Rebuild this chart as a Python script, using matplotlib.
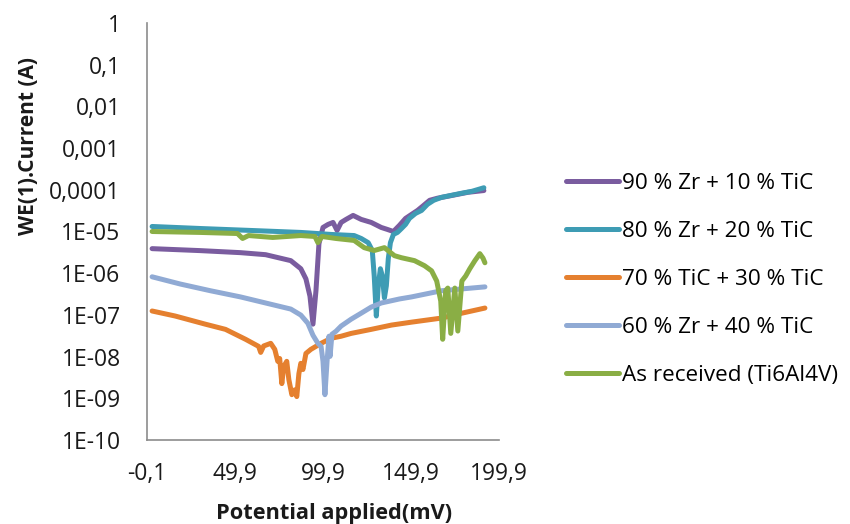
import matplotlib
matplotlib.use("Agg")
import matplotlib.pyplot as plt
from matplotlib.ticker import FixedLocator, FixedFormatter

plt.rcParams['font.family'] = ['Open Sans', 'DejaVu Sans']

# Polarisation curves: potential (mV) vs current (A)
zr90_x = [2.8, 30.2, 53.0, 67.3, 81.6, 87.3, 90.2, 92.5, 94.2, 95.9, 97.6, 99.9,
          102.8, 105.6, 107.9, 110.2, 113.0, 117.0, 121.6, 127.3, 133.0, 136.5,
          139.9, 143.3, 146.8, 150.2, 153.6, 157.0, 160.5, 165.0, 170.8, 176.5,
          182.2, 191.3]
zr90_y = [3.88e-6, 3.48e-6, 3.11e-6, 2.78e-6, 2.0e-6, 1.28e-6, 7.3e-7, 2.8e-7,
          6.0e-8, 3.8e-7, 5.1e-6, 1.25e-5, 1.48e-5, 1.65e-5, 1.06e-5, 1.65e-5,
          1.95e-5, 2.43e-5, 1.95e-5, 1.65e-5, 1.25e-5, 1.12e-5, 1.0e-5, 1.40e-5,
          2.06e-5, 2.57e-5, 3.2e-5, 4.2e-5, 5.6e-5, 6.3e-5, 7.0e-5, 7.8e-5,
          8.7e-5, 9.6e-5]

zr80_x = [2.8, 30.2, 58.8, 87.3, 104.5, 117.6, 121.6, 125.6, 127.9, 129.0, 130.2,
          131.3, 132.5, 133.6, 134.8, 135.9, 137.0, 138.2, 139.9, 142.2, 144.5,
          146.8, 149.0, 152.5, 155.9, 159.3, 162.8, 167.3, 173.0, 178.8, 184.5,
          191.3]
zr80_y = [1.32e-5, 1.18e-5, 1.06e-5, 9.5e-6, 8.5e-6, 8.0e-6, 6.8e-6, 5.4e-6,
          3.5e-6, 8.6e-7, 9.4e-8, 5.0e-7, 1.28e-6, 8.6e-7, 2.55e-7, 5.0e-7,
          2.23e-6, 5.4e-6, 8.5e-6, 9.5e-6, 1.18e-5, 1.48e-5, 2.06e-5, 2.72e-5,
          3.2e-5, 4.5e-5, 5.6e-5, 6.6e-5, 7.4e-5, 8.3e-5, 9.2e-5, 1.12e-4]

tic70_x = [2.8, 15.9, 33.0, 44.5, 55.9, 63.3, 64.5, 66.2, 70.2, 72.5, 74.2, 75.3,
           76.5, 77.6, 79.3, 80.5, 82.2, 83.9, 85.0, 86.2, 87.3, 88.5, 90.2, 93.0,
           98.8, 104.5, 110.2, 115.9, 127.3, 138.8, 150.2, 167.3, 178.8, 191.9]
tic70_y = [1.24e-7, 9.4e-8, 6.0e-8, 4.5e-8, 2.6e-8, 1.76e-8, 1.26e-8, 1.8e-8,
           2.08e-8, 1.49e-8, 7.7e-9, 9.0e-9, 2.25e-9, 5.8e-9, 7.7e-9, 2.8e-9,
           1.22e-9, 1.6e-9, 1.1e-9, 3.9e-9, 6.9e-9, 4.9e-9, 1.19e-8, 1.49e-8,
           2.08e-8, 2.75e-8, 3.08e-8, 3.6e-8, 4.5e-8, 5.7e-8, 6.7e-8, 8.4e-8,
           1.1e-7, 1.46e-7]

zr60_x = [2.8, 18.8, 35.9, 53.0, 67.3, 81.6, 87.3, 91.3, 94.2, 97.0, 98.8, 99.9,
          101.0, 102.2, 103.3, 103.9, 105.0, 107.3, 110.2, 115.9, 121.6, 127.3,
          133.0, 143.3, 150.2, 158.7, 167.3, 178.8, 191.9]
zr60_y = [8.2e-7, 5.5e-7, 3.8e-7, 2.7e-7, 1.93e-7, 1.38e-7, 9.9e-8, 6.3e-8,
          3.25e-8, 2.08e-8, 1.76e-8, 7.7e-9, 1.22e-9, 7.7e-9, 3.08e-8, 1.01e-8,
          3.44e-8, 4.06e-8, 5.4e-8, 7.9e-8, 1.1e-7, 1.54e-7, 1.93e-7, 2.41e-7,
          2.7e-7, 3.2e-7, 3.8e-7, 4.2e-7, 4.7e-7]

ti64_x = [2.8, 30.2, 51.3, 54.2, 57.6, 71.3, 87.3, 95.3, 97.0, 99.3, 107.3, 117.6,
          123.3, 129.0, 134.8, 140.5, 144.5, 151.9, 157.6, 161.6, 164.5, 166.8,
          167.9, 169.6, 170.8, 172.5, 174.8, 176.5, 178.8, 181.0, 183.3, 186.2,
          189.0, 190.8, 191.9]
ti64_y = [1.0e-5, 9.5e-6, 8.95e-6, 6.8e-6, 8.0e-6, 7.2e-6, 8.0e-6, 7.6e-6, 5.4e-6,
          7.6e-6, 6.8e-6, 6.1e-6, 4.1e-6, 3.5e-6, 4.1e-6, 2.63e-6, 2.35e-6,
          2.0e-6, 1.51e-6, 1.14e-6, 6.5e-7, 2.15e-7, 2.6e-8, 3.8e-7, 4.4e-7,
          3.6e-8, 4.4e-7, 4.1e-8, 6.5e-7, 8.6e-7, 1.28e-6, 2.0e-6, 2.94e-6,
          2.3e-6, 1.78e-6]

series_labels = ["90 % Zr + 10 % TiC", "80 % Zr + 20 % TiC", "70 % TiC + 30 % TiC",
                 "60 % Zr + 40 % TiC", "As received (Ti6Al4V)"]
series_colors = ["#7A5C9F", "#3E9CB4", "#E5802F", "#90AAD4", "#8AAE45"]

x_ticks = [-0.1, 49.9, 99.9, 149.9, 199.9]
x_tick_labels = ["-0,1", "49,9", "99,9", "149,9", "199,9"]
y_ticks = [1e0, 1e-1, 1e-2, 1e-3, 1e-4, 1e-5, 1e-6, 1e-7, 1e-8, 1e-9, 1e-10]
y_tick_labels = ["1", "0,1", "0,01", "0,001", "0,0001", "1E-05", "1E-06",
                 "1E-07", "1E-08", "1E-09", "1E-10"]

fig = plt.figure(figsize=(8.5, 5.24), dpi=100)
ax = fig.add_axes([147 / 850, 1 - 440 / 524, (499 - 147) / 850, (440 - 23) / 524])

xs = [zr90_x, zr80_x, tic70_x, zr60_x, ti64_x]
ys = [zr90_y, zr80_y, tic70_y, zr60_y, ti64_y]
for x, y, lab, col in zip(xs, ys, series_labels, series_colors):
    ax.plot(x, y, color=col, lw=3.6, label=lab, solid_joinstyle='round',
            solid_capstyle='round')

ax.set_yscale('log')
ax.set_ylim(1e-10, 1)
ax.set_xlim(-0.1, 199.9)
ax.yaxis.set_major_locator(FixedLocator(y_ticks))
ax.yaxis.set_major_formatter(FixedFormatter(y_tick_labels))
ax.yaxis.set_minor_locator(FixedLocator([]))
ax.set_xticks(x_ticks)
ax.set_xticklabels(x_tick_labels)

for s in ['top', 'right']:
    ax.spines[s].set_visible(False)
for s in ['left', 'bottom']:
    ax.spines[s].set_color('#8C8C8C')
    ax.spines[s].set_linewidth(1.2)
ax.tick_params(axis='both', length=0, labelsize=16.5, colors='#1A1A1A')
ax.tick_params(axis='y', pad=19)
ax.tick_params(axis='x', pad=16)

fig.text(28 / 850, 1 - 146 / 524, "WE(1).Current (A)", rotation=90, fontsize=15,
         fontweight='bold', ha='center', va='center', color='#1A1A1A')
fig.text(334 / 850, 1 - 513 / 524, "Potential applied(mV)", fontsize=15.7,
         fontweight='bold', ha='center', va='center', color='#1A1A1A')

handles, labels = ax.get_legend_handles_labels()
fig.legend(handles, labels, loc='upper left', bbox_to_anchor=(566 / 850, 1 - 173 / 524),
           frameon=False, fontsize=16.2, handlelength=2.35, handletextpad=0.15,
           labelspacing=1.2, borderaxespad=0, borderpad=0)

fig.savefig("out.png", dpi=100)
